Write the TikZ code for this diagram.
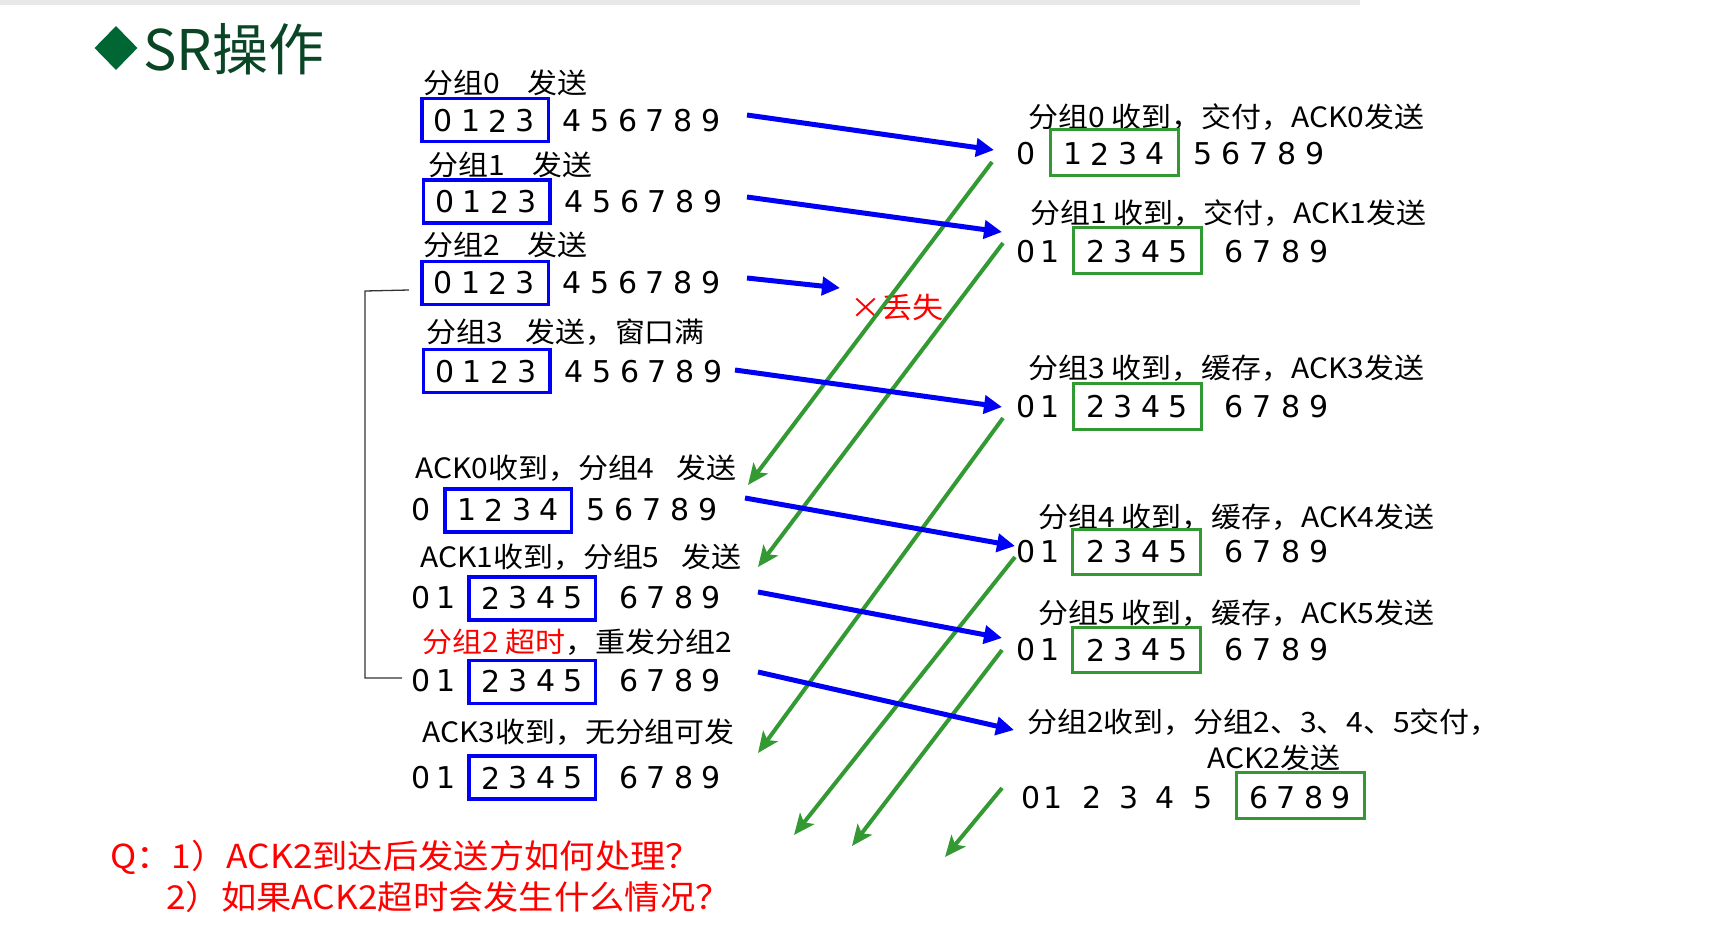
\documentclass[tikz,border=0pt]{standalone}
\usepackage{fontspec}
\setmainfont{DejaVu Sans}
\newfontfamily\cjk{Noto Sans CJK SC}
\newfontfamily\cjkw[FakeStretch=1.07]{Noto Sans CJK SC}
\newfontfamily\digfont{DejaVu Sans}
\usetikzlibrary{arrows.meta,shapes.geometric}
\definecolor{bl}{HTML}{0000F5}
\definecolor{gr}{HTML}{339933}
\definecolor{rd}{HTML}{FF0000}
\definecolor{ttl}{HTML}{0A4525}
\definecolor{dia}{HTML}{006633}
\newcommand\digs[5]{\foreach \d [count=\i] in {#5} {\node[dg] (#1\i) at ({#2+(\i-1)*#4},#3) {\d};}}
\begin{document}
\begin{tikzpicture}[x=1pt,y=-1pt,
  lbl/.style={anchor=west,inner sep=0pt,font=\cjkw\fontsize{28}{30}\selectfont},
  dg/.style={inner sep=0pt,font=\digfont\fontsize{30}{32}\selectfont},
  bbox/.style={draw=bl,line width=3.5pt,inner sep=0pt,minimum width=126.5pt,minimum height=43pt},
  gbox/.style={draw=gr,line width=3pt,inner sep=0pt,minimum width=128pt,minimum height=45.5pt},
  barrow/.style={draw=bl,line width=5pt,-{Triangle[length=18pt,width=18pt]}},
  garrow/.style={draw=gr,line width=4pt,-{Stealth[length=21pt,width=18pt,inset=5pt]}}]
\useasboundingbox (0,0) rectangle (1719,934);
\fill[white] (0,0) rectangle (1719,934);
\fill[gray!18] (0,0) rectangle (1360,5);
% title
\node[diamond,fill=dia,inner sep=0pt,minimum width=43pt,minimum height=44pt] (dmd) at (116,48) {};
\node[anchor=west,inner sep=0pt,text=ttl,font=\cjk\fontsize{56}{58}\selectfont] (title) at (143,49) {SR操作};
% ---------------- sender ----------------
\node[lbl] (l0) at (423,83) {分组0\hspace{1em}发送};
\node[bbox] (sb0) at (485,120) {};
\digs{sa}{443.5}{121}{27.3}{0,1,2,3}
\digs{sb}{572}{121}{27.8}{4,5,6,7,8,9}
\node[lbl] (l1) at (428,165) {分组1\hspace{1em}发送};
\node[bbox] (sb1) at (486.5,201.5) {};
\digs{sc}{445}{202}{27.3}{0,1,2,3}
\digs{sd}{574}{202}{27.8}{4,5,6,7,8,9}
\node[lbl] (l2) at (423,245) {分组2\hspace{1em}发送};
\node[bbox] (sb2) at (485,283) {};
\digs{se}{443.5}{283}{27.3}{0,1,2,3}
\digs{sf}{572}{283}{27.8}{4,5,6,7,8,9}
\node[lbl] (l3) at (426,332) {分组3\hspace{0.8em}发送，窗口满};
\node[bbox] (sb3) at (486.5,371) {};
\digs{sg}{445}{372}{27.3}{0,1,2,3}
\digs{sh}{574}{372}{27.8}{4,5,6,7,8,9}
\node[lbl] (l4) at (415,468) {ACK0收到，分组4\hspace{0.8em}发送};
\node[dg] (si1) at (421,510) {0};
\node[bbox] (sb4) at (508,510.5) {};
\digs{sj}{467}{510}{27.3}{1,2,3,4}
\digs{sk}{596}{510}{28}{5,6,7,8,9}
\node[lbl] (l5) at (420,557) {ACK1收到，分组5\hspace{0.8em}发送};
\digs{sl}{421}{598}{25}{0,1}
\node[bbox] (sb5) at (532,598.5) {};
\digs{sm}{491}{598}{27.3}{2,3,4,5}
\digs{sn}{629}{598}{27.5}{6,7,8,9}
\node[lbl] (l6) at (422,642) {\textcolor{rd}{分组2 超时}，重发分组2};
\digs{so}{421}{681}{25}{0,1}
\node[bbox] (sb6) at (532,682) {};
\digs{sp}{491}{681}{27.3}{2,3,4,5}
\digs{sq}{629}{681}{27.5}{6,7,8,9}
\node[lbl] (l7) at (422,732) {ACK3收到，无分组可发};
\digs{sr}{421}{778}{25}{0,1}
\node[bbox] (sb7) at (532,777.5) {};
\digs{ss}{491}{778}{27.3}{2,3,4,5}
\digs{st}{629}{778}{27.5}{6,7,8,9}
% ---------------- receiver ----------------
\node[lbl] (r0) at (1028,117) {分组0 收到，交付，ACK0发送};
\node[dg] (ra1) at (1026,154) {0};
\node[gbox] (gb0) at (1114,152.5) {};
\digs{rb}{1073}{154}{27.5}{1,2,3,4}
\digs{rc}{1203}{154}{28}{5,6,7,8,9}
\node[lbl] (r1) at (1030,213) {分组1 收到，交付，ACK1发送};
\digs{rd}{1026}{251.5}{24}{0,1}
\node[gbox] (gb1) at (1137,250.5) {};
\digs{re}{1096}{251.5}{27.5}{2,3,4,5}
\digs{rf}{1234}{251.5}{28.5}{6,7,8,9}
\node[lbl] (r3) at (1028,368) {分组3 收到，缓存，ACK3发送};
\digs{rg}{1026}{406.5}{24}{0,1}
\node[gbox] (gb3) at (1137,406.5) {};
\digs{rh}{1096}{406.5}{27.5}{2,3,4,5}
\digs{ri}{1234}{406.5}{28.5}{6,7,8,9}
\node[lbl] (r4) at (1038,517) {分组4 收到，缓存，ACK4发送};
\digs{rj}{1026}{551.5}{24}{0,1}
\node[gbox] (gb4) at (1136.5,552) {};
\digs{rk}{1096}{551.5}{27.5}{2,3,4,5}
\digs{rl}{1234}{551.5}{28.5}{6,7,8,9}
\node[lbl] (r5) at (1038,613) {分组5 收到，缓存，ACK5发送};
\digs{rm}{1026}{650}{24}{0,1}
\node[gbox] (gb5) at (1136.5,650) {};
\digs{rn}{1096}{650}{27.5}{2,3,4,5}
\digs{ro}{1234}{650}{28.5}{6,7,8,9}
\node[lbl] (r6) at (1027,722) {分组2收到，分组2、3、4、5交付，};
\node[lbl] (r6b) at (1207,758) {ACK2发送};
\foreach \d/\x in {0/1031,1/1053,2/1092,3/1129,4/1165,5/1203} {\node[dg] (rp\d) at (\x,797.5) {\d};}
\node[gbox] (gb6) at (1300,795.5) {};
\digs{rq}{1259}{797.5}{27.5}{6,7,8,9}
% lost
\node[anchor=west,inner sep=0pt,text=rd,font=\cjkw\fontsize{29}{30}\selectfont] (lost) at (850,307) {×丢失};
% ---------------- connectors ----------------
\coordinate (b0s) at (747,115); \coordinate (b0e) at (994,150);
\coordinate (b1s) at (747,197); \coordinate (b1e) at (1002,232);
\coordinate (b2s) at (747,278); \coordinate (b2e) at (840,288);
\coordinate (b3s) at (735,370); \coordinate (b3e) at (1002,407);
\coordinate (b4s) at (745,498); \coordinate (b4e) at (1015,546);
\coordinate (b5s) at (758,592); \coordinate (b5e) at (1002,638);
\coordinate (b6s) at (758,672); \coordinate (b6e) at (1014,730);
\coordinate (g0s) at (992,162); \coordinate (g0e) at (748,485);
\coordinate (g1s) at (1003,243); \coordinate (g1e) at (758,567);
\coordinate (g3s) at (1003,418); \coordinate (g3e) at (758,753);
\coordinate (g4s) at (1015,557); \coordinate (g4e) at (794,835);
\coordinate (g5s) at (1002,650); \coordinate (g5e) at (852,846);
\coordinate (g6s) at (1002,788); \coordinate (g6e) at (945,857);
\foreach \n in {0,1,3,4,5,6} {\draw[garrow] (g\n s) -- (g\n e);}
\foreach \n in {0,1,2,3,4,5,6} {\draw[barrow] (b\n s) -- (b\n e);}
% bracket
\coordinate (k1) at (409,290); \coordinate (k2) at (365,291);
\coordinate (k3) at (365,678); \coordinate (k4) at (402,678);
\draw[line width=1.3pt,black!80] (k1) -- (k2) -- (k3) -- (k4);
% questions
\node[anchor=west,inner sep=0pt,text=rd,font=\cjkw\fontsize{33}{35}\selectfont] (q1) at (110,857) {Q：1）ACK2到达后发送方如何处理？};
\node[anchor=west,inner sep=0pt,text=rd,font=\cjkw\fontsize{33}{35}\selectfont] (q2) at (166,897) {2）如果ACK2超时会发生什么情况？};
\end{tikzpicture}
\end{document}
